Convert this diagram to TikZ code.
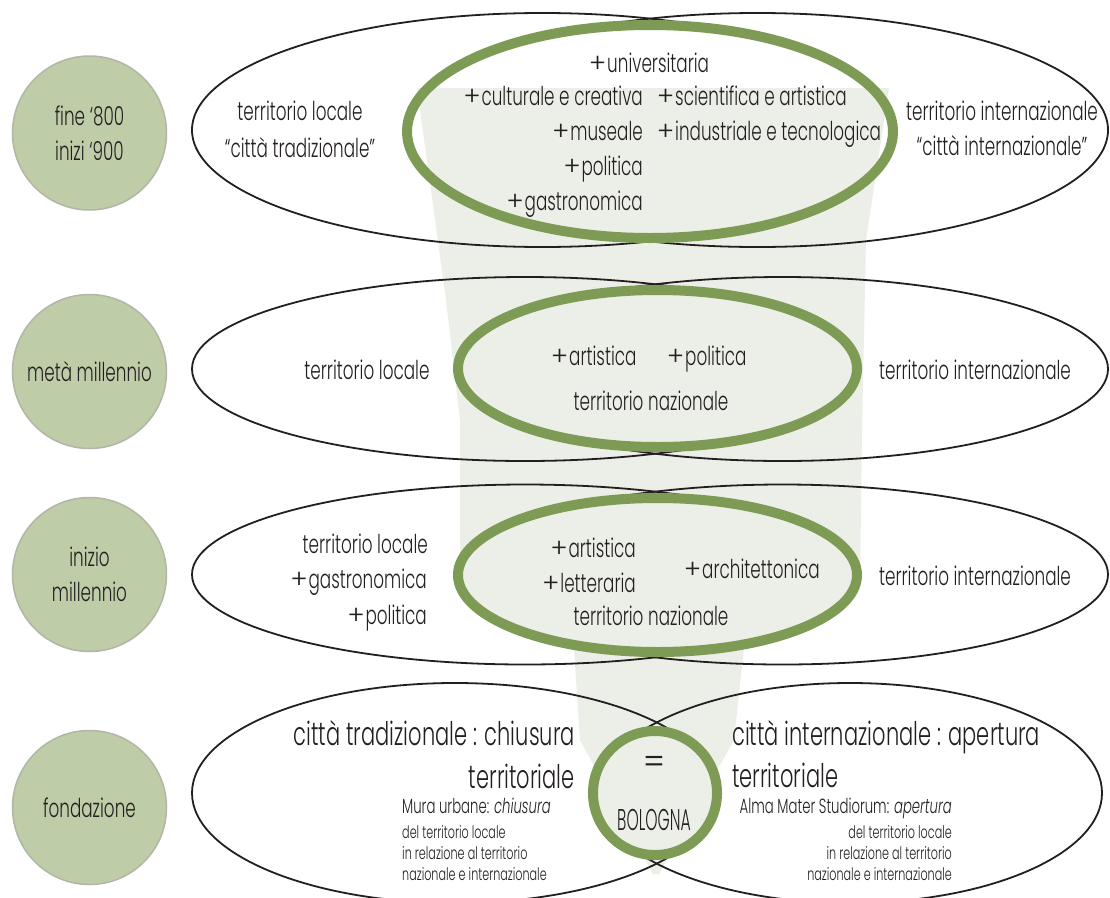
\documentclass[tikz,border=0pt]{standalone}
\usepackage{fontspec}
\setmainfont{Poppins}[UprightFont=* Light, ItalicFont=* Light Italic, BoldFont=* Medium, FakeStretch=0.646]
\definecolor{txt}{HTML}{231F20}
\definecolor{ringgreen}{HTML}{7E9B56}
\definecolor{funnelgreen}{HTML}{ECEFE7}
\definecolor{eragreen}{HTML}{BECCA8}
\definecolor{eraedge}{HTML}{B2B6A6}
\newcommand{\pl}{{\addfontfeatures{FakeStretch=1}+}\kern1pt}
\def\funnelpath{(417,88) -- (889,88) -- (866,240) -- (862,430) -- (860,585) -- (744,648) -- (734,740) -- (659,874) -- (653,874) -- (580,740) -- (574,648) -- (460,585) -- (460,420) -- (446,300) -- cycle}
\tikzset{
  lbl/.style={inner sep=0pt, font=\fontsize{26}{30}\selectfont, text=txt},
  big/.style={inner sep=0pt, font=\fontsize{32.5}{36}\selectfont, text=txt},
  mid/.style={inner sep=0pt, font=\fontsize{20.5}{24}\selectfont, text=txt},
  small/.style={inner sep=0pt, font=\fontsize{17.3}{20}\selectfont, text=txt},
  blk/.style={draw=txt, line width=1.8pt},
  ring/.style={draw=ringgreen, line width=10pt},
  era/.style={circle, fill=eragreen, draw=eraedge, line width=1.5pt, minimum size=154pt, inner sep=0pt, align=center, font=\fontsize{26}{35}\selectfont, text=txt}
}
\begin{document}
\begin{tikzpicture}[x=1pt,y=-1pt]
\useasboundingbox (0,0) rectangle (1110,897);
\fill[white] (0,0) rectangle (1110,897);
% funnel background
\fill[funnelgreen] \funnelpath;
% black ellipses
\draw[blk] (542.5,130) ellipse [x radius=350.5pt, y radius=117pt];
\draw[blk] (757.5,130) ellipse [x radius=350.5pt, y radius=117pt];
\draw[blk] (525,369) ellipse [x radius=333pt, y radius=92pt];
\draw[blk] (782.5,369) ellipse [x radius=325.5pt, y radius=92pt];
\draw[blk] (525,574.5) ellipse [x radius=333pt, y radius=90pt];
\draw[blk] (782.5,574.5) ellipse [x radius=325.5pt, y radius=90pt];
\draw[blk] (455,793) ellipse [x radius=263pt, y radius=110pt];
\draw[blk] (850,793) ellipse [x radius=252pt, y radius=110pt];
% ring interiors
\begin{scope}
  \clip (650,131.5) ellipse [x radius=243pt, y radius=106.5pt];
  \fill[white] (0,0) rectangle (1110,897);
  \fill[funnelgreen] \funnelpath;
\end{scope}
\fill[funnelgreen] (657.5,368.5) ellipse [x radius=199.5pt, y radius=78.5pt];
\fill[funnelgreen] (657.5,575) ellipse [x radius=199.5pt, y radius=77pt];
\fill[funnelgreen] (655,793) circle [radius=62pt];
% rings
\draw[ring] (650,131.5) ellipse [x radius=243pt, y radius=106.5pt];
\draw[ring] (657.5,368.5) ellipse [x radius=199.5pt, y radius=78.5pt];
\draw[ring] (657.5,575) ellipse [x radius=199.5pt, y radius=77pt];
\draw[ring] (655,793) circle [radius=62pt];
% era circles
\node[era] (c1) at (89.5,133) {fine ‘800\\inizi ‘900};
\node[era] (c2) at (89.5,371.5) {metà millennio};
\node[era] (c3) at (89.5,574.5) {inizio\\millennio};
\node[era] (c4) at (89.5,807.5) {fondazione};
% row 1
\node[lbl, anchor=base] (r1a) at (300,120) {territorio locale};
\node[lbl, anchor=base] (r1b) at (300,157) {“città tradizionale”};
\node[lbl, anchor=base] (r1c) at (1002,120) {territorio internazionale};
\node[lbl, anchor=base] (r1d) at (1002,155) {“città internazionale”};
\node[lbl, anchor=base west] (r1e) at (589,72) {\pl universitaria};
\node[lbl, anchor=base east] (r1f) at (643,105) {\pl culturale e creativa};
\node[lbl, anchor=base west] (r1g) at (657,105) {\pl scientifica e artistica};
\node[lbl, anchor=base east] (r1h) at (643,140) {\pl museale};
\node[lbl, anchor=base west] (r1i) at (657,140) {\pl industriale e tecnologica};
\node[lbl, anchor=base east] (r1j) at (643,175) {\pl politica};
\node[lbl, anchor=base east] (r1k) at (643,210) {\pl gastronomica};
% row 2
\node[lbl, anchor=base] (r2a) at (367,379) {territorio locale};
\node[lbl, anchor=base] (r2b) at (975,379) {territorio internazionale};
\node[lbl, anchor=base west] (r2c) at (551,365) {\pl artistica};
\node[lbl, anchor=base west] (r2d) at (667,365) {\pl politica};
\node[lbl, anchor=base] (r2e) at (651,410) {territorio nazionale};
% row 3
\node[lbl, anchor=base east] (r3a) at (428,553) {territorio locale};
\node[lbl, anchor=base east] (r3b) at (427,588) {\pl gastronomica};
\node[lbl, anchor=base east] (r3c) at (427,624) {\pl politica};
\node[lbl, anchor=base] (r3d) at (975,585) {territorio internazionale};
\node[lbl, anchor=base east] (r3e) at (636,557) {\pl artistica};
\node[lbl, anchor=base east] (r3f) at (636,592) {\pl letteraria};
\node[lbl, anchor=base west] (r3g) at (684,578) {\pl architettonica};
\node[lbl, anchor=base] (r3h) at (651,625) {territorio nazionale};
% row 4
\node[big, anchor=base east] (r4a) at (575,745) {città tradizionale : chiusura};
\node[big, anchor=base east] (r4b) at (575,788) {territoriale};
\node[mid, anchor=base west] (r4c) at (402,813) {Mura urbane: \textit{chiusura}};
\node[small, anchor=base west] (r4d) at (402,838) {del territorio locale};
\node[small, anchor=base west] (r4e) at (402,859) {in relazione al territorio};
\node[small, anchor=base west] (r4f) at (402,880) {nazionale e internazionale};
\node[big, anchor=base west] (r4g) at (732,745) {città internazionale : apertura};
\node[big, anchor=base west] (r4h) at (732,787) {territoriale};
\node[mid, anchor=base east] (r4i) at (952,813) {Alma Mater Studiorum: \textit{apertura}};
\node[small, anchor=base east] (r4j) at (952,838) {del territorio locale};
\node[small, anchor=base east] (r4k) at (952,859) {in relazione al territorio};
\node[small, anchor=base east] (r4l) at (952,880) {nazionale e internazionale};
\node[inner sep=0pt, text=txt, font=\fontsize{36}{36}\selectfont\addfontfeatures{FakeStretch=0.9}, anchor=center] (eq) at (654,765) {=};
\node[inner sep=0pt, text=txt, font=\fontsize{30}{32}\selectfont\addfontfeatures{FakeStretch=0.52}, anchor=base] (bo) at (654,830) {BOLOGNA};
\end{tikzpicture}
\end{document}
